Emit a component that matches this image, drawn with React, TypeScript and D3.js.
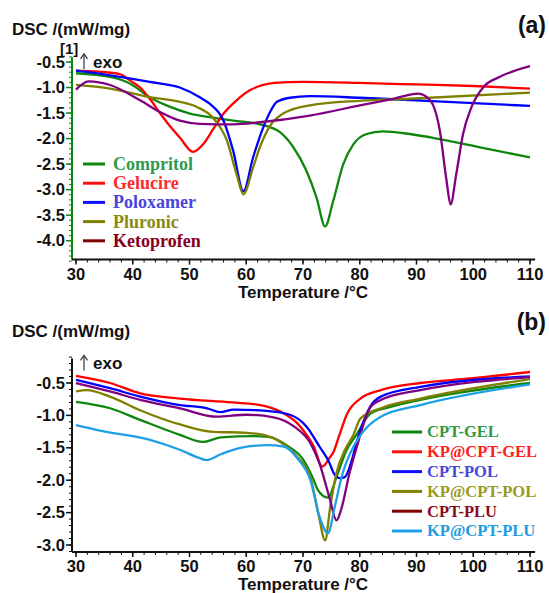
import React from "react";
import * as d3 from "d3";

// ---------- Panel (a) data ----------
const compritolT = [30, 36, 39.5, 43, 46.6, 50.1, 53.6, 57.7, 62.4, 66, 68.3, 70.6, 72.4, 73.9, 75.3, 77.1, 78.9, 81.2, 84.1, 88.8, 94.1, 101.2, 110];
const compritolV = [-0.72, -0.79, -0.92, -1.19, -1.38, -1.51, -1.58, -1.65, -1.72, -1.88, -2.17, -2.63, -3.16, -3.72, -3.23, -2.5, -2.11, -1.91, -1.86, -1.91, -2.01, -2.17, -2.37];
const gelucireT = [30, 34, 37.8, 39.5, 41.3, 43, 44.8, 46.5, 48.3, 50.6, 52.4, 54.2, 56, 58.3, 60.7, 63, 65, 70, 80, 90, 100, 110];
const gelucireV = [-0.67, -0.69, -0.74, -0.86, -1.0, -1.22, -1.5, -1.75, -1.98, -2.26, -2.11, -1.81, -1.51, -1.25, -1.05, -0.95, -0.91, -0.89, -0.91, -0.94, -0.97, -1.02];
const poloxamerT = [30, 36, 43, 48.3, 51.8, 53.6, 56, 57.7, 59.5, 61.2, 63, 64.2, 65.4, 67.7, 71.2, 80, 91.8, 110];
const poloxamerV = [-0.67, -0.76, -0.89, -1.0, -1.19, -1.32, -1.65, -2.24, -3.03, -2.37, -1.78, -1.48, -1.28, -1.2, -1.17, -1.2, -1.26, -1.36];
const pluronicT = [30, 36, 43, 48.3, 51.3, 54.2, 56.6, 58.3, 59.5, 61.2, 62.4, 64.2, 66.5, 71.2, 80, 88.8, 110];
const pluronicV = [-0.95, -1.02, -1.19, -1.28, -1.38, -1.6, -2.04, -2.7, -3.09, -2.57, -2.17, -1.75, -1.51, -1.35, -1.26, -1.22, -1.1];
const ketoprofenT = [30, 32.2, 36, 41.3, 44.8, 48.3, 51.8, 57.7, 62.4, 71.2, 80, 85.9, 90.3, 92.4, 94.1, 95.3, 96, 97, 98.2, 99.7, 101.8, 104.7, 110];
const ketoprofenV = [-1.04, -0.88, -0.95, -1.25, -1.48, -1.65, -1.71, -1.72, -1.68, -1.55, -1.35, -1.22, -1.12, -1.25, -1.84, -2.83, -3.29, -2.7, -1.91, -1.38, -0.99, -0.79, -0.58];

// ---------- Panel (b) data ----------
const cptGelT = [30, 36, 41.3, 48.3, 52.4, 55.5, 61.3, 64, 67.1, 70.1, 71.9, 72.6, 74.4, 75.9, 77.7, 79.4, 81.9, 85.4, 90.7, 110];
const cptGelV = [-0.79, -0.89, -1.07, -1.3, -1.41, -1.34, -1.32, -1.33, -1.46, -1.69, -2.0, -2.15, -2.27, -1.95, -1.53, -1.3, -0.97, -0.87, -0.76, -0.5];
const kpCptGelT = [30, 36, 41.3, 48.3, 57.5, 62.5, 66, 69.5, 71.9, 73.4, 74.8, 75.4, 76.2, 77.8, 80.1, 83.7, 90.7, 99.5, 110];
const kpCptGelV = [-0.39, -0.5, -0.66, -0.74, -0.8, -0.84, -0.94, -1.17, -1.48, -1.79, -1.64, -1.56, -1.36, -0.97, -0.74, -0.61, -0.5, -0.43, -0.33];
const cptPolT = [30, 36, 41.3, 48.3, 53.1, 55.4, 57.8, 63.6, 67.7, 70.6, 72.9, 74.7, 75.4, 76.6, 77.4, 78.6, 79.5, 81.8, 83.7, 90.7, 110];
const cptPolV = [-0.45, -0.58, -0.71, -0.84, -0.89, -0.95, -0.91, -0.93, -0.99, -1.17, -1.48, -1.74, -1.89, -1.97, -1.95, -1.69, -1.4, -0.87, -0.71, -0.56, -0.4];
const kpCptPolT = [30, 31.9, 36, 41.3, 48.3, 53.7, 60.1, 63.1, 66, 69, 71.3, 72.8, 73.9, 74.8, 75.9, 77.4, 78.9, 80.1, 83.7, 90.7, 110];
const kpCptPolV = [-0.63, -0.61, -0.71, -0.92, -1.14, -1.25, -1.27, -1.3, -1.41, -1.64, -1.95, -2.56, -2.93, -2.41, -1.89, -1.53, -1.3, -1.05, -0.89, -0.74, -0.44];
const cptPluT = [30, 36, 41.3, 48.3, 54.8, 60.1, 64.8, 68.4, 71.3, 72.9, 74.7, 75.9, 76.7, 78.2, 79.5, 81.9, 84.3, 90.7, 110];
const cptPluV = [-0.5, -0.63, -0.76, -0.89, -1.02, -0.99, -1.03, -1.17, -1.43, -1.74, -2.28, -2.62, -2.46, -1.89, -1.48, -0.87, -0.74, -0.61, -0.41];
const kpCptPluT = [30, 34, 43.2, 48.3, 51.8, 53, 55.5, 59, 63.6, 66.6, 69, 71.3, 72.9, 74.4, 75.6, 76.8, 78.9, 80.6, 83.7, 90.7, 110];
const kpCptPluV = [-1.15, -1.23, -1.38, -1.53, -1.66, -1.69, -1.6, -1.5, -1.46, -1.48, -1.66, -2.0, -2.56, -2.82, -2.41, -1.95, -1.48, -1.25, -1.02, -0.84, -0.52];

const xTicks = [30, 40, 50, 60, 70, 80, 90, 100, 110];
const yTicksA = [-0.5, -1.0, -1.5, -2.0, -2.5, -3.0, -3.5, -4.0];
const yTicksB = [-0.5, -1.0, -1.5, -2.0, -2.5, -3.0];

const seriesA = [
  { name: "Compritol", t: compritolT, v: compritolV, color: "#0f870f", legendLine: "#0f870f", text: "#2f9a4f" },
  { name: "Gelucire", t: gelucireT, v: gelucireV, color: "#ff0000", legendLine: "#ff1010", text: "#ff2a2a" },
  { name: "Poloxamer", t: poloxamerT, v: poloxamerV, color: "#0000ff", legendLine: "#1010ff", text: "#4646dc" },
  { name: "Pluronic", t: pluronicT, v: pluronicV, color: "#808000", legendLine: "#808000", text: "#8a8a14" },
  { name: "Ketoprofen", t: ketoprofenT, v: ketoprofenV, color: "#800080", legendLine: "#800000", text: "#880020" },
];
const seriesB = [
  { name: "CPT-GEL", t: cptGelT, v: cptGelV, color: "#0f870f", legendLine: "#0f870f", text: "#2f9a3f" },
  { name: "KP@CPT-GEL", t: kpCptGelT, v: kpCptGelV, color: "#ff0000", legendLine: "#ff1010", text: "#ff2020" },
  { name: "CPT-POL", t: cptPolT, v: cptPolV, color: "#0000ff", legendLine: "#1010ff", text: "#4848d8" },
  { name: "KP@CPT-POL", t: kpCptPolT, v: kpCptPolV, color: "#808000", legendLine: "#808000", text: "#9a9a20" },
  { name: "CPT-PLU", t: cptPluT, v: cptPluV, color: "#800080", legendLine: "#800000", text: "#8b0a1a" },
  { name: "KP@CPT-PLU", t: kpCptPluT, v: kpCptPluV, color: "#1e9fe6", legendLine: "#1e9fe6", text: "#1e9be0" },
];

const x = d3.scaleLinear().domain([30, 110]).range([76, 530]);
const yA = d3.scaleLinear().domain([-0.5, -4.0]).range([62, 240.7]);
const yB = d3.scaleLinear().domain([-0.5, -3.0]).range([383, 545]);

const sans = "Arial, 'Liberation Sans', sans-serif";
const serif = "'Times New Roman', 'Liberation Serif', serif";

function Panel({ y, series, yTicks, yTop, yBottom, axisColor, label, labelY, topTextY, bracket, legend }: any) {
  const line = (s: any) =>
    d3.line<number>()
      .x((_, i) => x(s.t[i]))
      .y((d) => y(d))
      .curve(d3.curveMonotoneX)(s.v) as string;
  const axisY = y(yBottom);
  const xMin = x(29.3);
  const xMax = x(110.9);
  const minorY = d3.range(Math.round(yTop * 10), Math.round(yBottom * 10) - 1, -1).map((d) => d / 10);
  const minorX = d3.range(30, 111, 2);
  const arrowBase = y(yTop) + 12;
  return (
    <g>
      {/* curves */}
      {series.map((s: any) => (
        <path key={s.name} d={line(s)} fill="none" stroke={s.color} strokeWidth={2.3} strokeLinejoin="round" />
      ))}
      {/* y axis */}
      <line x1={72} x2={72} y1={y(yTop)} y2={axisY} stroke={axisColor} strokeWidth={2} />
      {minorY.map((d: number) => (
        <line key={"my" + d} x1={69} x2={72} y1={y(d)} y2={y(d)} stroke={axisColor} strokeWidth={1} />
      ))}
      {yTicks.map((d: number) => (
        <g key={"y" + d}>
          <line x1={66} x2={72} y1={y(d)} y2={y(d)} stroke={axisColor} strokeWidth={1.5} />
          <text x={65} y={y(d) + 5.5} textAnchor="end" fontFamily={sans} fontWeight="bold" fontSize={16.5} fill="#111">
            {d.toFixed(1)}
          </text>
        </g>
      ))}
      {/* x axis */}
      <line x1={xMin} x2={xMax} y1={axisY} y2={axisY} stroke="#111" strokeWidth={2} />
      {minorX.map((d: number) => (
        <line key={"mx" + d} x1={x(d)} x2={x(d)} y1={axisY} y2={axisY + 3} stroke="#111" strokeWidth={1} />
      ))}
      {xTicks.map((d: number) => (
        <g key={"x" + d}>
          <line x1={x(d)} x2={x(d)} y1={axisY} y2={axisY + 5} stroke="#111" strokeWidth={1.5} />
          <text x={x(d)} y={axisY + 20} textAnchor="middle" fontFamily={sans} fontWeight="bold" fontSize={16.5} fill="#111">
            {d}
          </text>
        </g>
      ))}
      <text x={303} y={axisY + 38.5} textAnchor="middle" fontFamily={sans} fontWeight="bold" fontSize={17} fill="#111">
        Temperature /°C
      </text>
      <text x={12} y={topTextY} fontFamily={sans} fontWeight="bold" fontSize={17} fill="#111">
        DSC /(mW/mg)
      </text>
      {bracket && (
        <text x={60} y={topTextY + 19} fontFamily={sans} fontWeight="bold" fontSize={15} fill="#111">
          [1]
        </text>
      )}
      {/* up arrow drawn as a mark, with "exo" text */}
      <line x1={84} x2={84} y1={arrowBase} y2={arrowBase - 14} stroke="#334" strokeWidth={1.2} />
      <path d={`M${80.5},${arrowBase - 10} L84,${arrowBase - 15} L87.5,${arrowBase - 10}`} fill="none" stroke="#334" strokeWidth={1.2} />
      <text x={93} y={arrowBase - 1} fontFamily={sans} fontWeight="bold" fontSize={17} fill="#111">
        exo
      </text>
      <text x={546} y={labelY} textAnchor="end" fontFamily={sans} fontWeight="bold" fontSize={23} fill="#111">
        {label}
      </text>
      {/* legend */}
      {series.map((s: any, i: number) => (
        <g key={"lg" + s.name}>
          <line x1={legend.x1} x2={legend.x2} y1={legend.y0 + i * legend.dy} y2={legend.y0 + i * legend.dy} stroke={s.legendLine} strokeWidth={3} />
          <text x={legend.tx} y={legend.y0 + i * legend.dy + legend.fs * 0.33} fontFamily={serif} fontWeight="bold" fontSize={legend.fs} fill={s.text}>
            {s.name}
          </text>
        </g>
      ))}
    </g>
  );
}

export default function App() {
  return (
    <svg width={549} height={593} style={{ position: "absolute", left: 0, top: 0, background: "#fff" }}>
      <rect width={549} height={593} fill="#fff" />
      <Panel
        y={yA}
        series={seriesA}
        yTicks={yTicksA}
        yTop={-0.4}
        yBottom={-4.37}
        axisColor="#0f870f"
        label="(a)"
        labelY={33}
        topTextY={35}
        bracket={true}
        legend={{ x1: 83, x2: 105, tx: 113, y0: 164, dy: 19.2, fs: 18 }}
      />
      <Panel
        y={yB}
        series={seriesB}
        yTicks={yTicksB}
        yTop={-0.12}
        yBottom={-3.108}
        axisColor="#111"
        label="(b)"
        labelY={330}
        topTextY={337}
        bracket={false}
        legend={{ x1: 392, x2: 422, tx: 427, y0: 432, dy: 19.8, fs: 16.5 }}
      />
    </svg>
  );
}
